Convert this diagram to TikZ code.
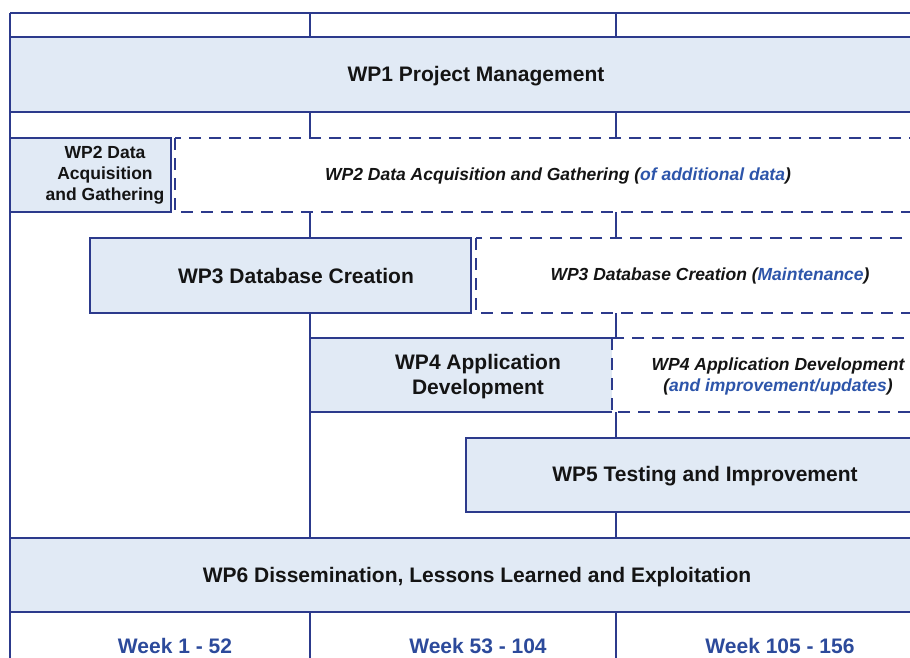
\documentclass[tikz,border=0pt]{standalone}
\usepackage{fontspec}
\setmainfont{Liberation Sans}
\definecolor{frameblue}{RGB}{44,58,140}
\definecolor{boxfill}{RGB}{225,234,245}
\definecolor{hlblue}{RGB}{45,85,170}
\definecolor{weekblue}{RGB}{44,74,155}
\begin{document}
\begin{tikzpicture}[x=1pt,y=-1pt,
  frameline/.style={draw=frameblue,line width=2.3pt},
  solidbox/.style={draw=frameblue,line width=2.3pt,fill=boxfill},
  dashbox/.style={draw=frameblue,line width=2.3pt,fill=white,dash pattern=on 12pt off 8pt},
  bigtxt/.style={inner sep=0pt,align=center,text=black!92,yshift=-2pt,font=\fontsize{21}{25}\selectfont\bfseries},
  smalltxt/.style={inner sep=0pt,align=center,text=black!92,yshift=-1.5pt,font=\fontsize{17.5}{21}\selectfont\bfseries},
  itxt/.style={inner sep=0pt,align=center,text=black!92,yshift=-2pt,font=\fontsize{17.5}{21}\selectfont\bfseries\itshape},
  weektxt/.style={inner sep=0pt,anchor=base,text=weekblue,font=\fontsize{21}{25}\selectfont\bfseries}]
\useasboundingbox (0,0) rectangle (910,658);
\fill[white] (0,0) rectangle (910,658);
% frame and column lines
\draw[frameline] (10,13) -- (914,13);
\draw[frameline] (10,13) -- (10,662);
\draw[frameline] (310,13) -- (310,662);
\draw[frameline] (616,13) -- (616,662);
% WP1
\draw[solidbox] (10,37) rectangle (914,112);
% WP2
\draw[solidbox] (10,138) rectangle (171,212);
\draw[dashbox] (175,138) rectangle (914,212);
% WP3
\draw[solidbox] (90,238) rectangle (471,313);
\draw[dashbox] (476,238) rectangle (914,313);
% WP4
\fill[boxfill] (310,338) rectangle (612,412);
\draw[frameline] (612,338) -- (310,338) -- (310,412) -- (612,412);
\draw[dashbox] (612,338) rectangle (914,412);
% WP5
\draw[solidbox] (466,438) rectangle (914,512);
% WP6
\draw[solidbox] (10,538) rectangle (914,612);
% texts
\node[bigtxt] (t1) at (476,74) {WP1 Project Management};
\node[smalltxt] (t2a) at (105,174) {WP2 Data\\Acquisition\\and Gathering};
\node[itxt] (t2b) at (558,174) {WP2 Data Acquisition and Gathering (\textcolor{hlblue}{of additional data})};
\node[bigtxt] (t3a) at (296,274) {WP3 Database Creation};
\node[itxt] (t3b) at (710,274) {WP3 Database Creation (\textcolor{hlblue}{Maintenance})};
\node[bigtxt] (t4a) at (478,375) {WP4 Application\\Development};
\node[itxt] (t4b) at (778,374) {WP4 Application Development\\(\textcolor{hlblue}{and improvement/updates})};
\node[bigtxt] (t5) at (705,474) {WP5 Testing and Improvement};
\node[bigtxt] (t6) at (477,575) {WP6 Dissemination, Lessons Learned and Exploitation};
\node[weektxt] (w1) at (175,653) {Week 1 - 52};
\node[weektxt] (w2) at (478,653) {Week 53 - 104};
\node[weektxt] (w3) at (780,653) {Week 105 - 156};
\end{tikzpicture}
\end{document}
